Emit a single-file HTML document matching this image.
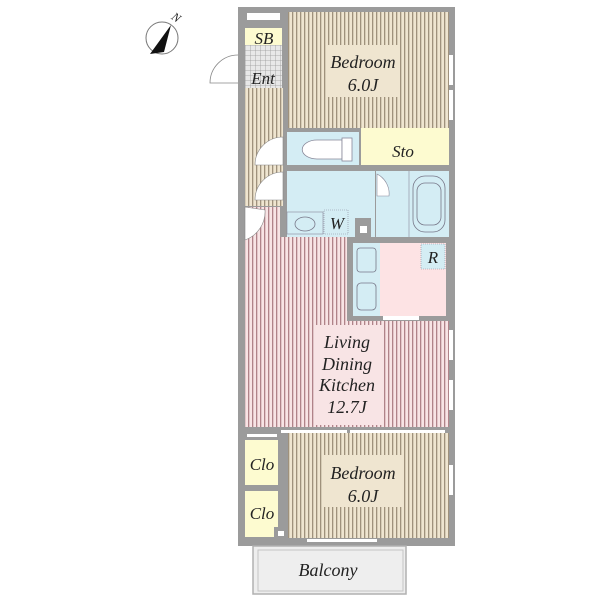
<!DOCTYPE html>
<html><head><meta charset="utf-8"><style>
html,body{margin:0;padding:0;background:#fff;}
svg{display:block}
text{font-family:"Liberation Serif",serif;font-style:italic;fill:#222;}
</style></head><body>
<svg width="600" height="600" viewBox="0 0 600 600" xmlns="http://www.w3.org/2000/svg">
<defs>
<pattern id="beige" width="4" height="10" patternUnits="userSpaceOnUse">
<rect width="4" height="10" fill="#efe5d0"/><rect x="0" width="1.3" height="10" fill="#9f917c"/></pattern>
<pattern id="pink" width="4" height="10" patternUnits="userSpaceOnUse">
<rect width="4" height="10" fill="#f8e4e5"/><rect x="0" width="1.3" height="10" fill="#b08389"/></pattern>
<pattern id="grid" width="5" height="5" patternUnits="userSpaceOnUse">
<rect width="5" height="5" fill="#e8e8e8"/><path d="M0 0H5M0 0V5" stroke="#999" stroke-width="0.8"/></pattern>
</defs>
<rect x="238" y="7" width="217" height="539" fill="#9b9b9b"/>
<rect x="288" y="12" width="161" height="116" fill="url(#beige)"/>
<rect x="326" y="45" width="74" height="52" fill="#efe5d0"/>
<rect x="245" y="12" width="36" height="16" fill="#9b9b9b"/>
<rect x="247" y="13" width="33" height="7" fill="#fff"/>
<rect x="245" y="28" width="37" height="17" fill="#fdfbd0"/>
<rect x="245" y="45" width="37" height="43" fill="url(#grid)"/>
<rect x="245" y="88" width="38" height="118" fill="url(#beige)"/>
<rect x="287" y="132" width="72" height="33" fill="#d4edf4"/>
<path d="M342 140 h-25 a14 9 0 0 0 0 19 h25 z" fill="#fff" stroke="#889" stroke-width="0.8"/>
<rect x="342" y="138" width="10" height="23" fill="#fff" stroke="#889" stroke-width="0.8"/>
<rect x="361" y="128" width="88" height="37" fill="#fdfbd0"/>
<rect x="287" y="171" width="88" height="66" fill="#d4edf4"/>
<rect x="287" y="212" width="36" height="22" fill="#d4edf4" stroke="#889" stroke-width="0.6"/>
<ellipse cx="305" cy="224" rx="10" ry="7" fill="none" stroke="#778" stroke-width="0.8"/>
<rect x="324" y="210" width="24" height="24" fill="none" stroke="#889" stroke-width="0.6" stroke-dasharray="1,1"/>
<rect x="355" y="218" width="16" height="19" fill="#9b9b9b"/>
<rect x="360" y="226" width="7" height="7" fill="#fff"/>
<rect x="376" y="171" width="73" height="66" fill="#d4edf4"/>
<line x1="409" y1="171" x2="409" y2="237" stroke="#889" stroke-width="0.6"/>
<rect x="413" y="176" width="32" height="56" rx="12" fill="none" stroke="#778" stroke-width="0.8"/>
<rect x="417" y="183" width="24" height="42" rx="8" fill="none" stroke="#778" stroke-width="0.8"/>
<path d="M377 174 a22 22 0 0 1 12 22 h-12 z" fill="#fff" stroke="#889" stroke-width="0.6"/>
<rect x="245" y="207" width="35" height="30" fill="url(#pink)"/>
<rect x="245" y="237" width="204" height="190" fill="url(#pink)"/>
<rect x="314" y="325" width="68" height="100" fill="#f8e4e5"/>
<rect x="347" y="237" width="102" height="84" fill="#9b9b9b"/>
<rect x="353" y="243" width="93" height="73" fill="#fde3e4"/>
<rect x="353" y="243" width="27" height="73" fill="#d4edf4"/>
<rect x="357" y="248" width="19" height="24" rx="3" fill="none" stroke="#778" stroke-width="0.8"/>
<rect x="357" y="283" width="19" height="27" rx="4" fill="none" stroke="#778" stroke-width="0.8"/>
<rect x="421" y="244" width="24" height="25" fill="#d4edf4" stroke="#889" stroke-width="0.6" stroke-dasharray="1,1"/>
<rect x="383" y="316" width="36" height="4" fill="#fff"/>
<path d="M245 207 v33 a30 30 0 0 0 20 -30 z" fill="#fff" stroke="#888" stroke-width="0.6"/>
<path d="M283 137 a28 28 0 0 0 -28 28 h28 z" fill="#fff" stroke="#888" stroke-width="0.6"/>
<path d="M283 172 a28 28 0 0 0 -28 28 h28 z" fill="#fff" stroke="#888" stroke-width="0.6"/>
<path d="M238 55 a28 28 0 0 0 -28 28 h28" fill="none" stroke="#888" stroke-width="0.8"/>
<rect x="245" y="427" width="204" height="6" fill="#9b9b9b"/>
<rect x="281" y="430" width="66" height="3" fill="#fff"/>
<rect x="350" y="430" width="95" height="3" fill="#fff"/>
<rect x="245" y="433" width="36" height="105" fill="#9b9b9b"/>
<rect x="247" y="434" width="30" height="3" fill="#fff"/>
<rect x="245" y="440" width="33" height="45" fill="#fdfbd0"/>
<rect x="245" y="491" width="33" height="46" fill="#fdfbd0"/>
<rect x="274" y="527" width="14" height="11" fill="#9b9b9b"/>
<rect x="278" y="531" width="6" height="5" fill="#fff"/>
<rect x="288" y="433" width="161" height="105" fill="url(#beige)"/>
<rect x="322" y="455" width="80" height="52" fill="#efe5d0"/>
<rect x="307" y="539" width="70" height="3" fill="#fff"/>
<rect x="253" y="546" width="153" height="48" fill="#eeeeee" stroke="#b0b0b0" stroke-width="1.5"/>
<rect x="258" y="550" width="145" height="41" fill="none" stroke="#c4c4c4" stroke-width="1"/>
<rect x="449" y="55" width="4" height="30" fill="#fff"/>
<rect x="449" y="90" width="4" height="30" fill="#fff"/>
<rect x="449" y="330" width="4" height="30" fill="#fff"/>
<rect x="449" y="380" width="4" height="30" fill="#fff"/>
<rect x="449" y="465" width="4" height="30" fill="#fff"/>
<circle cx="162" cy="38" r="16" fill="#fff" stroke="#777" stroke-width="1"/>
<path d="M150 54 L171 25 L164 52 Z" fill="#111"/>
<text x="172" y="22" font-size="12" transform="rotate(35 177 18)">N</text>
<text x="264" y="44" font-size="17" text-anchor="middle">SB</text>
<text x="263" y="84" font-size="17" text-anchor="middle">Ent</text>
<text x="363" y="68" font-size="18" text-anchor="middle">Bedroom</text>
<text x="363" y="91" font-size="18" text-anchor="middle">6.0J</text>
<text x="403" y="157" font-size="17" text-anchor="middle">Sto</text>
<text x="337" y="229" font-size="17" text-anchor="middle">W</text>
<text x="433" y="263" font-size="17" text-anchor="middle">R</text>
<text x="347" y="348" font-size="18" text-anchor="middle">Living</text>
<text x="347" y="370" font-size="18" text-anchor="middle">Dining</text>
<text x="347" y="391" font-size="18" text-anchor="middle">Kitchen</text>
<text x="347" y="413" font-size="18" text-anchor="middle">12.7J</text>
<text x="262" y="470" font-size="17" text-anchor="middle">Clo</text>
<text x="262" y="519" font-size="17" text-anchor="middle">Clo</text>
<text x="363" y="479" font-size="18" text-anchor="middle">Bedroom</text>
<text x="363" y="502" font-size="18" text-anchor="middle">6.0J</text>
<text x="328" y="576" font-size="18" text-anchor="middle">Balcony</text>
</svg>
</body></html>
